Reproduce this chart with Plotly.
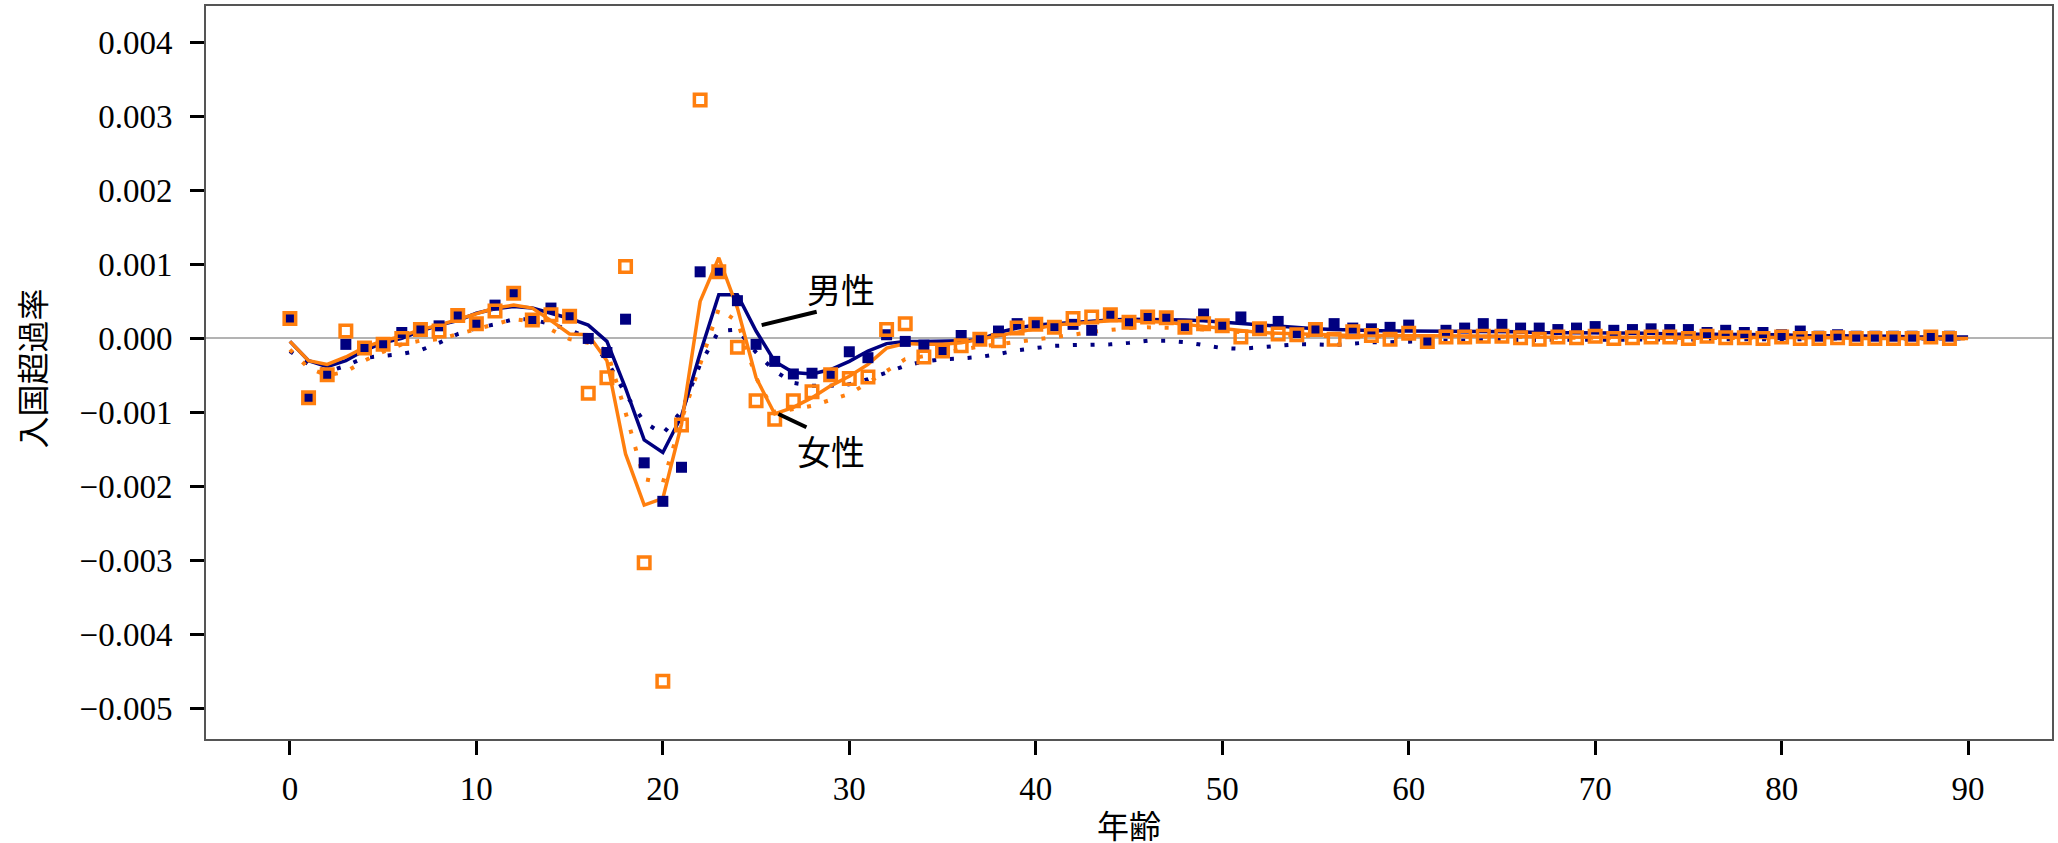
import plotly.graph_objects as go

ages = list(range(0, 90))
ages_line = list(range(0, 91))

male_pts = [0.00027, -0.0008, -0.00048, -0.00008, -0.00013, -0.00007, 0.00008, 0.00011, 0.00017, 0.0003,
            0.0002, 0.00045, 0.00061, 0.00025, 0.00041, 0.0003, 0.0, -0.00019, 0.00026, -0.00168,
            -0.0022, -0.00174, 0.0009, 0.0009, 0.00051, -0.00008, -0.00031, -0.00048, -0.00047, -0.00051,
            -0.00018, -0.00026, 0.00005, -0.00004, -0.00009, -0.00015, 0.00004, -0.00001, 0.0001, 0.0002,
            0.0002, 0.00017, 0.00019, 0.00011, 0.00031, 0.00023, 0.00029, 0.00027, 0.00017, 0.00033,
            0.00017, 0.00029, 0.00013, 0.00023, 0.00008, 0.00011, 0.0002, 0.00014, 0.00013, 0.00015,
            0.00018, -0.00005, 0.00011, 0.00014, 0.0002, 0.00019, 0.00014, 0.00014, 0.00012, 0.00014,
            0.00016, 0.00011, 0.00012, 0.00013, 0.00012, 0.00012, 0.00008, 0.00011, 0.00008, 0.00008,
            0.00005, 0.0001, 0.00003, 0.00005, 0.00003, 0.00003, 0.00003, 0.00003, 0.00004, 0.00003]

female_pts = [0.00027, -0.0008, -0.00049, 0.0001, -0.00013, -0.00008, 0.0, 0.00012, 0.0001, 0.00031,
              0.0002, 0.00037, 0.00061, 0.00025, 0.00032, 0.0003, -0.00074, -0.00053, 0.00097, -0.00303,
              -0.00463, -0.00117, 0.00322, 0.0009, -0.00012, -0.00084, -0.00109, -0.00084, -0.00072, -0.00049,
              -0.00054, -0.00052, 0.00012, 0.0002, -0.00025, -0.00017, -0.0001, -0.00001, -0.00003, 0.00014,
              0.00019, 0.00015, 0.00027, 0.00029, 0.00032, 0.00022, 0.00029, 0.00028, 0.00015, 0.0002,
              0.00017, 0.00002, 0.00013, 0.00006, 0.00005, 0.00012, -0.00001, 0.00009, 0.00004, -0.00001,
              0.00007, -0.00004, 0.00002, 0.00002, 0.00003, 0.00003, 0.00001, -0.00001, 0.00002, 0.00001,
              0.00003, 0.0, 0.00001, 0.00002, 0.00002, 0.0, 0.00003, 0.00001, 0.00001, 0.0,
              0.00002, 0.0, 0.0, 0.00001, 0.0, 0.0, 0.0, 0.0, 0.00002, 0.0]

male_fit = [-0.00004, -0.0003, -0.00038, -0.0003, -0.00016, -0.00006, 0.0, 0.0001, 0.00018, 0.00024,
            0.00034, 0.0004, 0.00043, 0.00041, 0.00034, 0.00027, 0.00018, -0.00004, -0.00067, -0.00137,
            -0.00154, -0.00105, -0.0002, 0.00059, 0.00059, 0.0001, -0.00031, -0.00046, -0.00048, -0.00042,
            -0.00031, -0.00017, -0.00007, -0.00004, -0.00004, -0.00004, -0.00003, -0.00002, 0.00008, 0.00014,
            0.00018, 0.0002, 0.00022, 0.00024, 0.00025, 0.00026, 0.00026, 0.00026, 0.00025, 0.00024,
            0.00022, 0.0002, 0.00018, 0.00016, 0.00014, 0.00013, 0.00012, 0.00011, 0.00011, 0.0001,
            0.0001, 0.0001, 0.0001, 0.0001, 0.00009, 0.00009, 0.00009, 0.00008, 0.00008, 0.00008,
            0.00008, 0.00007, 0.00007, 0.00007, 0.00006, 0.00006, 0.00006, 0.00005, 0.00005, 0.00005,
            0.00005, 0.00004, 0.00004, 0.00004, 0.00003, 0.00003, 0.00003, 0.00002, 0.00002, 0.00002,
            0.00002]

female_fit = [-0.00004, -0.0003, -0.00035, -0.00025, -0.00012, -0.00003, 0.00003, 0.00012, 0.00018, 0.00026,
              0.00034, 0.00041, 0.00045, 0.00041, 0.00024, 0.00006, 0.00005, -0.0003, -0.00156, -0.00225,
              -0.00216, -0.00116, 0.0005, 0.00109, 0.00041, -0.00053, -0.00102, -0.00093, -0.0008, -0.00064,
              -0.00051, -0.00035, -0.00013, -0.00007, -0.00008, -0.00008, -0.00006, -0.00001, 0.00003, 0.00009,
              0.00014, 0.00018, 0.0002, 0.00022, 0.00024, 0.00024, 0.00023, 0.00022, 0.00019, 0.00016,
              0.00013, 0.0001, 0.00008, 0.00007, 0.00006, 0.00005, 0.00004, 0.00004, 0.00004, 0.00004,
              0.00004, 0.00003, 0.00003, 0.00003, 0.00003, 0.00003, 0.00003, 0.00002, 0.00002, 0.00002,
              0.00002, 0.00002, 0.00002, 0.00002, 0.00001, 0.00001, 0.00001, 0.00001, 0.00001, 0.00001,
              0.00001, 0.00001, 0.00001, 0.00001, 0.0, 0.0, 0.0, 0.0, 0.0, 0.0,
              0.0]

male_smooth = [-0.00017, -0.00035, -0.00045, -0.00037, -0.00026, -0.00023, -0.00021, -0.00016, -0.00006, 0.00006,
               0.00014, 0.00019, 0.00026, 0.00026, 0.00019, 0.00012, 0.0, -0.0003, -0.00075, -0.00113,
               -0.00129, -0.00098, -0.00035, 0.0001, 0.00012, -0.00019, -0.00044, -0.0006, -0.00064, -0.00064,
               -0.00062, -0.00055, -0.00046, -0.00037, -0.00031, -0.00028, -0.00027, -0.00025, -0.00021, -0.00016,
               -0.00013, -0.0001, -0.00009, -0.00009, -0.00008, -0.00006, -0.00003, -0.00003, -0.00005, -0.00009,
               -0.00013, -0.00014, -0.00012, -0.0001, -0.00008, -0.00008, -0.00009, -0.00007, -0.00005, -0.00005,
               -0.00004, -0.00003, -0.00003, -0.00003, -0.00002, -0.00002, -0.00002, -0.00002, -0.00002, -0.00002,
               -0.00002, -0.00002, -0.00001, -0.00001, -0.00001, -0.00001, -0.00001, -0.00001, -0.00001, -0.00001,
               -0.00001, -0.00001, 0.0, 0.0, 0.0, 0.0, 0.0, 0.0, 0.0, 0.0,
               0.0]

female_smooth = [-0.00015, -0.0004, -0.0005, -0.00045, -0.0003, -0.00018, -0.00008, -0.00003, -0.00001, 0.00006,
                 0.00012, 0.00019, 0.00026, 0.00023, 0.00012, -0.00001, -0.00006, -0.00016, -0.001, -0.0019,
                 -0.00195, -0.0011, -0.00035, 0.0004, 0.00023, -0.00053, -0.001, -0.00095, -0.00091, -0.00083,
                 -0.00075, -0.0006, -0.00044, -0.00028, -0.00024, -0.00019, -0.00015, -0.00011, -0.00008, -0.00005,
                 -0.00002, 0.00001, 0.00005, 0.00009, 0.00012, 0.00014, 0.00015, 0.00015, 0.00014, 0.00012,
                 0.0001, 0.00008, 0.00006, 0.00005, 0.00004, 0.00003, 0.00003, 0.00003, 0.00003, 0.00003,
                 0.00002, 0.00002, 0.00002, 0.00002, 0.00002, 0.00002, 0.00002, 0.00002, 0.00001, 0.00001,
                 0.00001, 0.00001, 0.00001, 0.00001, 0.00001, 0.00001, 0.00001, 0.00001, 0.0, 0.0,
                 0.0, 0.0, 0.0, 0.0, 0.0, 0.0, 0.0, 0.0, 0.0, 0.0,
                 0.0]

y_ticks = [0.004, 0.003, 0.002, 0.001, 0.0, -0.001, -0.002, -0.003, -0.004, -0.005]
y_tick_labels = ["0.004", "0.003", "0.002", "0.001", "0.000", "\u22120.001", "\u22120.002",
                 "\u22120.003", "\u22120.004", "\u22120.005"]
x_ticks = [0, 10, 20, 30, 40, 50, 60, 70, 80, 90]

NAVY = "#000080"
ORANGE = "#ff7f0e"
SERIF = "Liberation Serif, Noto Sans CJK JP, serif"
CJK = "Noto Sans CJK JP, sans-serif"

fig = go.Figure()
fig.add_trace(go.Scatter(x=ages_line, y=male_smooth, mode="lines",
                         line=dict(color=NAVY, width=4, dash="4px,13.7px"), showlegend=False))
fig.add_trace(go.Scatter(x=ages_line, y=female_smooth, mode="lines",
                         line=dict(color=ORANGE, width=4, dash="4px,13.7px"), showlegend=False))
fig.add_trace(go.Scatter(x=ages_line, y=male_fit, mode="lines",
                         line=dict(color=NAVY, width=3.5), showlegend=False))
fig.add_trace(go.Scatter(x=ages_line, y=female_fit, mode="lines",
                         line=dict(color=ORANGE, width=3.5), showlegend=False))
fig.add_trace(go.Scatter(x=ages, y=male_pts, mode="markers",
                         marker=dict(symbol="square", size=11, color=NAVY, line=dict(width=0)),
                         showlegend=False))
fig.add_trace(go.Scatter(x=ages, y=female_pts, mode="markers",
                         marker=dict(symbol="square-open", size=11.5, color=ORANGE,
                                     line=dict(width=3.5, color=ORANGE)),
                         showlegend=False))

# label leader lines
fig.add_shape(type="line", x0=25.3, y0=0.00018, x1=28.25, y1=0.00036,
              xref="x", yref="y", line=dict(color="black", width=4))
fig.add_shape(type="line", x0=26.2, y0=-0.00102, x1=27.7, y1=-0.0012,
              xref="x", yref="y", line=dict(color="black", width=4))
fig.add_annotation(x=29.55, y=0.00067, text="男性", showarrow=False,
                   font=dict(family=CJK, size=34, color="black"), xanchor="center", yanchor="middle")
fig.add_annotation(x=29.0, y=-0.00152, text="女性", showarrow=False,
                   font=dict(family=CJK, size=34, color="black"), xanchor="center", yanchor="middle")

# axis titles
fig.add_annotation(xref="paper", yref="paper", x=-0.095, y=0.505, text="入国超過率",
                   textangle=-90, showarrow=False, font=dict(family=CJK, size=32, color="black"),
                   xanchor="center", yanchor="middle")
fig.add_annotation(xref="paper", yref="paper", x=0.5, y=-0.116, text="年齢",
                   showarrow=False, font=dict(family=CJK, size=32, color="black"),
                   xanchor="center", yanchor="middle")

fig.update_layout(
    width=2058, height=843,
    margin=dict(l=206, r=4, t=4, b=104),
    paper_bgcolor="white", plot_bgcolor="white",
    font=dict(family=SERIF, color="black"),
)
fig.update_xaxes(range=[-4.5, 94.5], tickmode="array", tickvals=x_ticks,
                 ticks="outside", ticklen=14, tickwidth=3, tickcolor="black",
                 showline=True, linecolor="#555555", linewidth=2, mirror=True,
                 showgrid=False, zeroline=False, tickfont=dict(family=SERIF, size=33),
                 ticklabelstandoff=5)
fig.update_yaxes(range=[-0.00541, 0.00449], tickmode="array", tickvals=y_ticks, ticktext=y_tick_labels,
                 ticks="outside", ticklen=14, tickwidth=3, tickcolor="black",
                 showline=True, linecolor="#555555", linewidth=2, mirror=True,
                 showgrid=False, zeroline=True, zerolinecolor="#b3b3b3", zerolinewidth=2,
                 tickfont=dict(family=SERIF, size=33), ticklabelstandoff=11)

fig.write_html("out.html")
